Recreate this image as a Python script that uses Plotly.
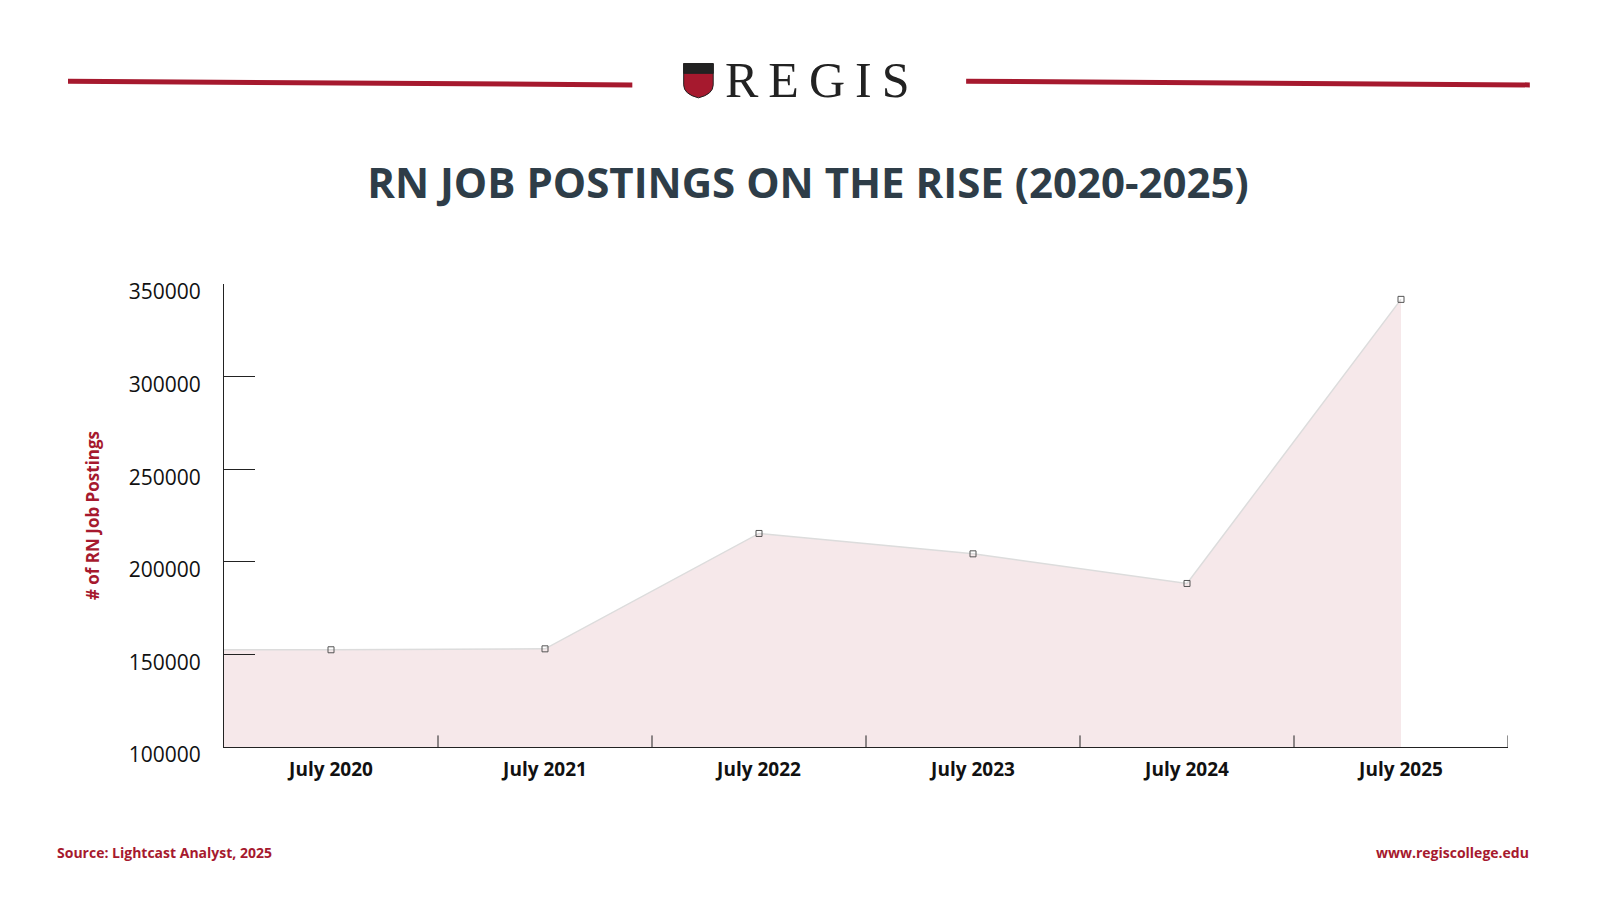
import plotly.graph_objects as go

months = ['July 2020', 'July 2021', 'July 2022', 'July 2023', 'July 2024', 'July 2025']
postings = [152500, 153000, 215300, 204300, 188300, 341700]
y_ticks = [100000, 150000, 200000, 250000, 300000, 350000]

red = '#A6192E'
dark = '#2E3D48'
xs = list(range(len(months)))

fig = go.Figure()
# area starts at the left edge of the axis at the first value
fig.add_trace(go.Scatter(
    x=[-0.5] + xs, y=[postings[0]] + postings, mode='lines',
    line=dict(color='#DCDCDC', width=1.5), fill='tozeroy',
    fillcolor='rgba(166,25,46,0.10)', hoverinfo='skip', showlegend=False))
fig.add_trace(go.Scatter(
    x=xs, y=postings, mode='markers',
    marker=dict(symbol='square-open', size=6, color='#555555', line=dict(width=1)),
    showlegend=False))

fig.update_layout(
    width=1600, height=900, plot_bgcolor='white', paper_bgcolor='white',
    margin=dict(l=216, r=100, t=276, b=161),
    font=dict(family='Open Sans, Lato, sans-serif', color='#111111'),
    title=dict(text='<b>RN JOB POSTINGS ON THE RISE (2020-2025)</b>', x=0.5, xanchor='center',
               y=0.805, yanchor='middle', font=dict(size=42, color=dark)),
    xaxis=dict(range=[-0.5, 5.5], tickvals=xs, ticktext=['<b>%s</b>' % m for m in months],
               showgrid=False, zeroline=False, showline=True, linecolor='#222', linewidth=1,
               ticks='', tickfont=dict(size=19, color='#111'), ticklabelstandoff=5),
    yaxis=dict(range=[100000, 350000], tickvals=y_ticks, tickformat='d', showgrid=False,
               zeroline=False, showline=True, linecolor='#222', linewidth=1, ticks='inside',
               ticklen=31, tickcolor='#222', tickfont=dict(size=21, color='#111'),
               ticklabelstandoff=18, ticklabelshift=8,
               title=dict(text='<b># of RN Job Postings</b>', font=dict(size=17, color=red),
                          standoff=24)),
)

# category separator ticks on the x axis
for i in range(1, len(months) + 1):
    fig.add_shape(type='line', xref='x', yref='paper', x0=i - 0.5, x1=i - 0.5, y0=0, y1=0.025,
                  line=dict(color='#222', width=1))

# header lines and wordmark
fig.add_shape(type='line', xref='paper', yref='paper', x0=-0.1215, x1=0.318, y0=1.438, y1=1.43,
              line=dict(color=red, width=5))
fig.add_shape(type='line', xref='paper', yref='paper', x0=0.578, x1=1.017, y0=1.438, y1=1.43,
              line=dict(color=red, width=5))
fig.add_shape(type='path', xref='paper', yref='paper',
              path='M 0.358 1.476 L 0.381 1.476 L 0.381 1.43 Q 0.381 1.41 0.3695 1.402 Q 0.358 1.41 0.358 1.43 Z',
              fillcolor=red, line=dict(color='#222', width=1))
fig.add_shape(type='rect', xref='paper', yref='paper', x0=0.358, x1=0.381, y0=1.455, y1=1.476,
              fillcolor='#222', line=dict(color='#222', width=1))
fig.add_annotation(text='R\u2009E\u2009G\u2009I\u2009S', xref='paper', yref='paper', x=0.389,
                   y=1.44, xanchor='left', yanchor='middle', showarrow=False,
                   font=dict(family='Liberation Serif, DejaVu Serif, serif', size=50, color='#222'))

fig.add_annotation(text='<b>Source: Lightcast Analyst, 2025</b>', xref='paper', yref='paper',
                   x=-0.132, y=-0.228, xanchor='left', yanchor='middle', showarrow=False,
                   font=dict(size=14, color=red))
fig.add_annotation(text='<b>www.regiscollege.edu</b>', xref='paper', yref='paper',
                   x=1.018, y=-0.228, xanchor='right', yanchor='middle', showarrow=False,
                   font=dict(size=14, color=red))

fig.write_html('out.html')
